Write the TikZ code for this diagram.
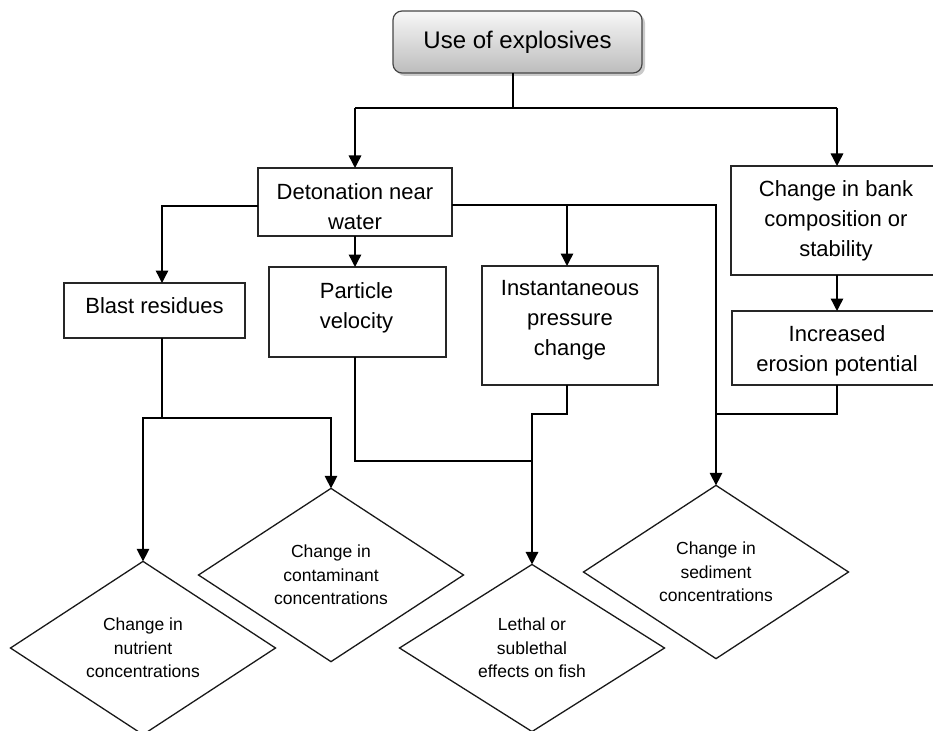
\documentclass[tikz,border=0pt]{standalone}
\usepackage{fontspec}
\setmainfont{Liberation Sans}
\usetikzlibrary{arrows.meta,shapes.geometric,calc,shadows}

\begin{document}
\begin{tikzpicture}[x=1pt,y=-1pt,
  box/.style={draw=black!85, line width=1.3pt, fill=white, inner sep=0pt, outer sep=0pt},
  lbl/.style={font=\fontsize{22}{30}\selectfont, align=center, anchor=north, inner sep=0pt},
  dia/.style={diamond, draw=black!90, line width=1.3pt, fill=white, inner sep=0pt, outer sep=0pt,
    font=\fontsize{17.5}{23.3}\selectfont, align=center,
    minimum width=265pt, minimum height=163pt},
  topbox/.style={draw=gray!55!black, line width=1.2pt, rounded corners=9pt,
    top color=gray!6, bottom color=gray!52, inner sep=0pt, outer sep=0pt,
    minimum width=249pt, minimum height=62pt,
    font=\fontsize{24}{28}\selectfont,
    drop shadow={shadow xshift=3pt, shadow yshift=-3pt, fill=gray!75, opacity=0.55}},
  conn/.style={line width=1.4pt, draw=black},
  arr/.style={conn, -{Triangle[length=12.5pt,width=12.5pt]}}
]
\useasboundingbox (0,0) rectangle (933,730);

% root
\node[topbox] (top) at (517.5,42) {Use of explosives};

% rectangular boxes
\node[box, minimum width=194pt, minimum height=68pt]  (det)     at (355,202)   {};
\node[box, minimum width=212pt, minimum height=109pt] (bank)    at (837,220.5) {};
\node[box, minimum width=210pt, minimum height=74pt]  (erosion) at (837,348)   {};
\node[box, minimum width=181pt, minimum height=55pt]  (blast)   at (154.5,310.5) {};
\node[box, minimum width=177pt, minimum height=90pt]  (particle) at (357.5,312) {};
\node[box, minimum width=176pt, minimum height=119pt] (inst)    at (570,325.5) {};

% box captions, set from the top edge of each box
\node[lbl] (detT)  at ($(det.north)+(0,15)$)      {Detonation near\\water};
\node[lbl] (bankT) at ($(bank.north)+(-1,14)$)    {Change in bank\\composition or\\stability};
\node[lbl] (eroT)  at ($(erosion.north)+(0,14)$)  {Increased\\erosion potential};
\node[lbl] (blastT) at ($(blast.north)+(0,14)$)   {Blast residues};
\node[lbl] (partT) at ($(particle.north)+(-1,15)$) {Particle\\velocity};
\node[lbl] (instT) at ($(inst.north)+(0,14)$)     {Instantaneous\\pressure\\change};

% outcome diamonds
\node[dia] (nutrient) at (143,648) {Change in\\nutrient\\concentrations};
\node[dia] (contam)   at (331,575) {Change in\\contaminant\\concentrations};
\node[dia] (lethal)   at (532,648) {Lethal or\\sublethal\\effects on fish};
\node[dia] (sediment) at (716,572) {Change in\\sediment\\concentrations};

% routing points
\coordinate (hubT) at (513,108);
\coordinate (tL) at (355,108);
\coordinate (tR) at (837,108);
\coordinate (brI) at (567,205);
\coordinate (jL) at (532,461);
\coordinate (jS) at (716,414);
\coordinate (bB) at (162,418);

% connectors from the root
\draw[conn] (top.south -| hubT) -- (hubT);
\draw[conn] (tL) -- (tR);
\draw[arr] (tL) -- (det.north);
\draw[arr] (tR) -- (bank.north);
\draw[arr] (bank.south) -- (erosion.north);

% connectors from the detonation box
\draw[arr] ([yshift=-4pt]det.west) -| ([xshift=7.5pt]blast.north);
\draw[arr] (det.south) -- (det.south |- particle.north);
\draw[arr] ([yshift=-3pt]det.east) -| (sediment.north);
\draw[arr] (brI) -- (brI |- inst.north);

% connectors into the outcomes
\draw[arr] (brI |- inst.south) -- ++(0,29) -| (lethal.north);
\draw[conn] (det.south |- particle.south) |- (jL);
\draw[conn] (erosion.south) |- (jS);
\draw[conn] ([xshift=7.5pt]blast.south) -- (bB);
\draw[arr] (bB) -| (nutrient.north);
\draw[arr] (bB) -| (contam.north);
\end{tikzpicture}
\end{document}
